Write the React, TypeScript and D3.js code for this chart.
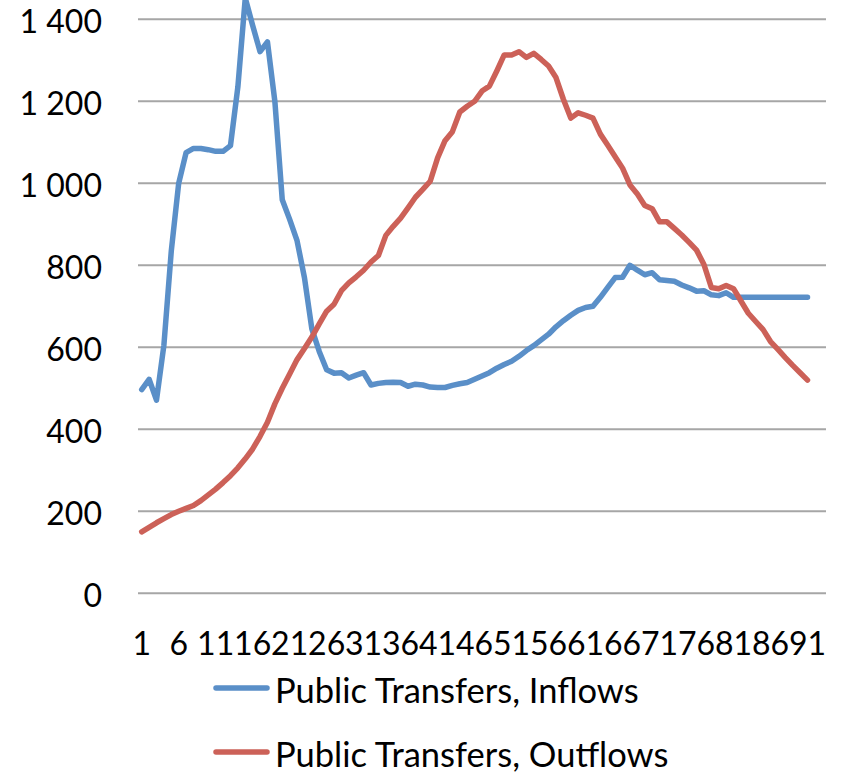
import React from "react";
import * as d3 from "d3";

const categories: number[] = d3.range(1, 94); // 93 category slots, data for 1..91
const inflows: number[] = [
  497, 522, 471, 605, 835, 1000, 1075, 1085, 1085, 1082,
  1078, 1078, 1092, 1235, 1452, 1385, 1321, 1345, 1200, 960,
  912, 860, 770, 645, 590, 545, 537, 538, 525, 532,
  538, 508, 512, 514, 515, 514, 505, 510, 508, 503,
  502, 502, 507, 511, 514, 522, 530, 538, 549, 558,
  566, 578, 592, 604, 618, 632, 650, 665, 678, 690,
  697, 700, 722, 746, 770, 771, 800, 788, 777, 782,
  765, 763, 761, 752, 745, 737, 738, 728, 726, 733,
  722, 722, 722, 722, 722, 722, 722, 722, 722, 722, 722,
];
const outflows: number[] = [
  150, 161, 172, 182, 192, 200, 207, 214, 226, 240,
  254, 270, 287, 306, 328, 352, 383, 417, 462, 500,
  535, 570, 597, 625, 657, 688, 705, 738, 757, 772,
  788, 808, 824, 873, 895, 915, 940, 966, 985, 1005,
  1062, 1104, 1126, 1174, 1188, 1200, 1225, 1237, 1274, 1313,
  1313, 1321, 1307, 1317, 1302, 1286, 1258, 1205, 1159, 1172,
  1166, 1159, 1120, 1093, 1065, 1037, 996, 974, 946, 938,
  906, 906, 890, 874, 856, 837, 802, 746, 743, 751,
  743, 713, 683, 663, 643, 614, 595, 575, 556, 538, 520,
];
const yTicks: number[] = [0, 200, 400, 600, 800, 1000, 1200, 1400];
const xTickLabels: number[] = d3.range(1, 92, 5);
const seriesNames: string[] = ["Public Transfers, Inflows", "Public Transfers, Outflows"];
const seriesColors: string[] = ["#5A8FC8", "#CC6158"];

const W = 841;
const H = 775;
const FONT = "Lato, 'Open Sans', sans-serif";

const fmt = (v: number) => {
  const s = String(v);
  return s.length > 3 ? s.slice(0, s.length - 3) + " " + s.slice(-3) : s;
};

export default function App() {
  const x = d3
    .scalePoint<number>()
    .domain(categories)
    .range([138, 826])
    .padding(0.5);
  const y = d3.scaleLinear().domain([0, 1600]).range([593.3, 593.3 - 1600 * 0.41]);

  const line = d3
    .line<number>()
    .x((_, i) => x(i + 1) as number)
    .y((d) => y(d));

  const series = [inflows, outflows];

  return (
    <svg
      width={W}
      height={H}
      style={{ position: "absolute", left: 0, top: 0, background: "#fff" }}
      fontFamily={FONT}
    >
      <rect x={0} y={0} width={W} height={H} fill="#fff" />
      {yTicks.map((t) => (
        <g key={t}>
          <line x1={138} x2={826} y1={y(t)} y2={y(t)} stroke="#A6A6A6" strokeWidth={2} />
          <text
            x={102}
            y={y(t) + 1}
            textAnchor="end"
            dominantBaseline="central"
            fontSize={32}
            fill="#000"
          >
            {fmt(t)}
          </text>
        </g>
      ))}
      {xTickLabels.map((c) => (
        <text
          key={c}
          x={x(c) as number}
          y={642}
          textAnchor="middle"
          dominantBaseline="central"
          fontSize={32}
          fill="#000"
        >
          {c}
        </text>
      ))}
      {series.map((s, k) => (
        <path
          key={k}
          d={line(s) || ""}
          fill="none"
          stroke={seriesColors[k]}
          strokeWidth={5.5}
          strokeLinejoin="round"
          strokeLinecap="round"
        />
      ))}
      {seriesNames.map((n, k) => {
        const ly = 688 + k * 64;
        return (
          <g key={n}>
            <line
              x1={216}
              x2={267}
              y1={ly}
              y2={ly}
              stroke={seriesColors[k]}
              strokeWidth={5.5}
              strokeLinecap="round"
            />
            <text x={275} y={ly + 1} dominantBaseline="central" fontSize={34.5} fill="#000">
              {n}
            </text>
          </g>
        );
      })}
    </svg>
  );
}
